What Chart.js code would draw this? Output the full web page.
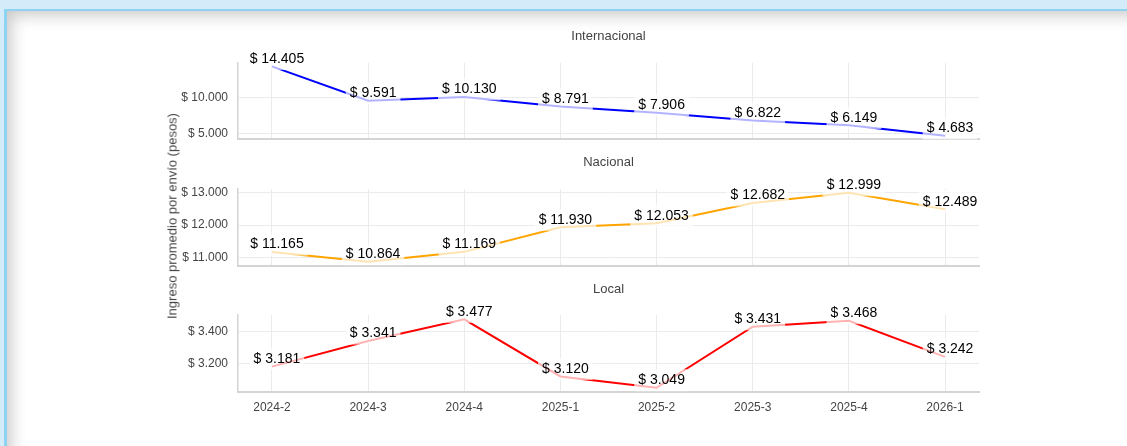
<!DOCTYPE html>
<html>
<head>
<meta charset="utf-8">
<script src="https://cdn.jsdelivr.net/npm/chart.js@4.4.1/dist/chart.umd.min.js"></script>
<style>
  html, body { margin: 0; padding: 0; }
  body { width: 1127px; height: 446px; overflow: hidden; background: #d4ebf9; position: relative; font-family: "Liberation Sans", Arial, sans-serif; }
  .panel { position: absolute; left: 4px; top: 9px; width: 1200px; height: 600px; background: #fff;
           border-left: 3px solid #8fd3f3; border-top: 2px solid #8fd3f3;
           box-shadow: inset 12px 12px 16px -8px rgba(0,0,0,0.22); }
  canvas { position: absolute; left: 0; }
  .ytitle { position: absolute; left: 172px; top: 216px; transform: translate(-50%, -50%) rotate(-90deg);
            white-space: nowrap; font-size: 13px; color: #444; }
</style>
</head>
<body>
<div class="panel"></div>
<canvas id="c1" style="top:0px" width="1127" height="150"></canvas>
<canvas id="c2" style="top:140px" width="1127" height="140"></canvas>
<canvas id="c3" style="top:266px" width="1127" height="180"></canvas>
<div class="ytitle">Ingreso promedio por envío (pesos)</div>
<script>
const categories = ['2024-2', '2024-3', '2024-4', '2025-1', '2025-2', '2025-3', '2025-4', '2026-1'];
const internacional = [14405, 9591, 10130, 8791, 7906, 6822, 6149, 4683];
const nacional = [11165, 10864, 11169, 11930, 12053, 12682, 12999, 12489];
const local = [3181, 3341, 3477, 3120, 3049, 3431, 3468, 3242];

const ticksInternacional = [5000, 10000];
const ticksNacional = [11000, 12000, 13000];
const ticksLocal = [3200, 3400];

const fmt = v => '$ ' + String(v).replace(/\B(?=(\d{3})+(?!\d))/g, '.');

// white see-through box behind each value label, then the text
const valueLabels = {
  id: 'valueLabels',
  afterDraw(chart) {
    const ctx = chart.ctx;
    const xs = chart.scales.x, ys = chart.scales.y;
    ctx.save();
    ctx.font = '14px "Liberation Sans", Arial, sans-serif';
    ctx.textAlign = 'center';
    ctx.textBaseline = 'middle';
    chart.data.datasets[0].data.forEach(p => {
      const px = xs.getPixelForValue(p.x), py = ys.getPixelForValue(p.y);
      const txt = fmt(p.y);
      const w = ctx.measureText(txt).width;
      const cx = px + 5, cy = py - 7.5;
      ctx.fillStyle = 'rgba(255,255,255,0.7)';
      ctx.fillRect(cx - w / 2 - 4, cy - 11, w + 8, 22);
      ctx.fillStyle = '#000';
      ctx.fillText(txt, cx, cy);
    });
    ctx.restore();
  }
};

const noPad = s => { s.paddingTop = 0; s.paddingBottom = 0; s.paddingLeft = 0; s.paddingRight = 0; };

function makePanel(id, title, values, color, yMin, yMax, yTicks, titlePad, showX, bottomPad) {
  new Chart(document.getElementById(id), {
    type: 'line',
    data: {
      datasets: [{
        data: values.map((v, i) => ({ x: i, y: v })),
        borderColor: color,
        borderWidth: 2,
        pointRadius: 0,
        tension: 0,
        fill: false,
      }]
    },
    options: {
      responsive: false,
      animation: false,
      layout: { padding: { left: 0, right: 148, top: 0, bottom: bottomPad } },
      plugins: {
        legend: { display: false },
        tooltip: { enabled: false },
        title: {
          display: true,
          text: title,
          fullSize: false,
          color: '#444',
          font: { size: 13, weight: 'normal', family: '"Liberation Sans", Arial, sans-serif', lineHeight: 1.2 },
          padding: titlePad,
        },
      },
      scales: {
        x: {
          type: 'linear',
          min: -0.353,
          max: 7.353,
          afterBuildTicks: s => { s.ticks = categories.map((_, i) => ({ value: i })); },
          afterFit: s => { noPad(s); if (!showX) s.height = 0; },
          grid: { color: '#ebebeb', drawTicks: false },
          border: { color: '#d4d4d4', width: 2 },
          ticks: {
            display: showX,
            padding: 9,
            color: '#444',
            maxRotation: 0,
            font: { size: 12, family: '"Liberation Sans", Arial, sans-serif' },
            callback: v => categories[v],
          },
        },
        y: {
          min: yMin,
          max: yMax,
          afterBuildTicks: s => { s.ticks = yTicks.map(v => ({ value: v })); },
          afterFit: s => { noPad(s); s.width = 238; },
          grid: { color: '#ebebeb', drawTicks: false },
          border: { color: '#d4d4d4', width: 1.5 },
          ticks: {
            padding: 10,
            color: '#444',
            font: { size: 12, family: '"Liberation Sans", Arial, sans-serif' },
            callback: v => fmt(v),
          },
        },
      },
    },
    plugins: [valueLabels],
  });
}

makePanel('c1', 'Internacional', internacional, '#0000ff', 4310, 14920, ticksInternacional, { top: 28.2, bottom: 18.9 }, false, 11.5);
makePanel('c2', 'Nacional', nacional, '#ffa500', 10740, 13115, ticksNacional, { top: 14.9, bottom: 18.5 }, false, 14.3);
makePanel('c3', 'Local', local, '#ff0000', 3025, 3504, ticksLocal, { top: 15.2, bottom: 18.2 }, true, 22);
</script>
</body>
</html>
